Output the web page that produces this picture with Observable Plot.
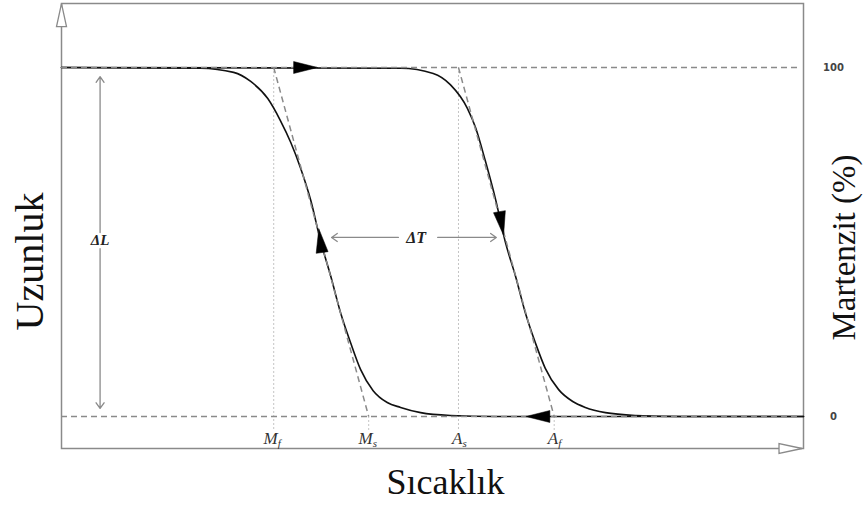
<!DOCTYPE html>
<html>
<head>
<meta charset="utf-8">
<script src="https://cdn.jsdelivr.net/npm/d3@7"></script>
<script src="https://cdn.jsdelivr.net/npm/@observablehq/plot@0.6"></script>
<style>
  body { margin: 0; background: #fff; }
  #chart svg { display: block; }
</style>
</head>
<body>
<div id="chart"></div>
<script>
// ---- data (temperature in arbitrary units 0–100, martensite in %) ----
const coolTemp = [0, 18.7, 23.2, 25.5, 27.8, 29.5, 30.9, 32.2, 33.6, 34.9, 36.3, 37.6, 39.0, 40.3, 42.0, 43.9, 45.7, 48.4, 52.4, 58.5, 100];
const coolMart = [100, 99.8, 98.6, 96.0, 91.1, 84.8, 78.5, 71.3, 61.9, 50.4, 40.1, 29.8, 20.9, 13.5, 7.4, 4.0, 2.6, 1.1, 0.3, 0, 0];
const heatTemp = [0, 45.7, 50.1, 52.4, 54.7, 55.8, 57.1, 58.5, 59.8, 61.2, 62.5, 63.9, 65.2, 67.0, 68.9, 70.6, 73.3, 77.4, 83.4, 100];
const heatMart = [100, 99.8, 98.3, 95.1, 88.3, 82.8, 73.4, 62.2, 50.1, 40.1, 29.8, 20.9, 13.8, 7.7, 4.3, 2.6, 1.1, 0.3, 0, 0];

const transLetter = ["M", "M", "A", "A"];
const transSub = ["f", "s", "s", "f"];
const transTemp = [28.6, 41.4, 53.5, 66.4];

const levels = [100, 0];
const levelLabels = ["100", "0"];

// direction markers on the loop
const markTemp = [32.9, 34.9, 59.3, 64.2];
const markMart = [100, 50.4, 55.3, 0];
const markAngle = [90, -8, 170, -90];

// ΔL and ΔT annotation
const dLTemp = 5.2;
const dLEnds = [[52.7, 97.4], [48.1, 2.3]];
const dLLabelMart = 50.4;
const dTMart = 51.3;
const dTEnds = [[45.4, 36.4], [50.7, 58.6]];
const dTLabelTemp = 47.8;

// axis range
const tempDomain = [0, 100];
const martDomain = [-9.17, 118.34];

// ---- helpers ----
const arrowSymbol = (k) => ({
  draw(context, size) {
    const r = Math.sqrt(size / Math.PI);
    context.moveTo(0, -k * r);
    context.lineTo(r, k * r);
    context.lineTo(-r, k * r);
    context.closePath();
  }
});

const rows = (xs, ys) => xs.map((x, i) => ({x, y: ys[i]}));
const cool = rows(coolTemp, coolMart);
const heat = rows(heatTemp, heatMart);
const trans = transTemp.map((t, i) => ({t, L: transLetter[i], s: transSub[i]}));
const marks = markTemp.map((t, i) => ({t, m: markMart[i], a: markAngle[i]}));
const tangents = [
  {x1: transTemp[0], y1: 100, x2: transTemp[1], y2: 0},
  {x1: transTemp[2], y1: 100, x2: transTemp[3], y2: 0}
];

const serif = "'Liberation Serif', 'Times New Roman', serif";
const grey = "#8a8a8a";

const chart = Plot.plot({
  width: 866,
  height: 506,
  marginLeft: 61,
  marginRight: 63,
  marginTop: 3,
  marginBottom: 58,
  x: {domain: tempDomain, axis: null},
  y: {domain: martDomain, axis: null},
  style: {background: "white", overflow: "visible"},
  marks: [
    Plot.frame({stroke: grey, strokeWidth: 1.5}),
    // dotted verticals at transformation temperatures
    Plot.ruleX([transTemp[0], transTemp[2]], {y1: 100, y2: -4.3, stroke: "#c4c4c4", strokeWidth: 1, strokeDasharray: "2,2"}),
    Plot.ruleX([transTemp[1], transTemp[3]], {y1: 0, y2: -4.3, stroke: "#c4c4c4", strokeWidth: 1, strokeDasharray: "2,2"}),
    // curves
    Plot.line(cool, {x: "x", y: "y", curve: "monotone-x", stroke: "#111", strokeWidth: 1.6}),
    Plot.line(heat, {x: "x", y: "y", curve: "monotone-x", stroke: "#111", strokeWidth: 1.6}),
    // level dashed lines
    Plot.ruleY(levels, {stroke: grey, strokeWidth: 1.5, strokeDasharray: "6,4", x1: 0, x2: 99.6}),
    // tangent dashed lines
    Plot.link(tangents, {x1: "x1", y1: "y1", x2: "x2", y2: "y2", stroke: grey, strokeWidth: 1.5, strokeDasharray: "6,4"}),
    // direction markers
    Plot.dot(marks, {x: "t", y: "m", rotate: "a", symbol: arrowSymbol(2), r: 6, fill: "#000", stroke: "#000", strokeWidth: 0.5}),
    // axis arrow heads (open)
    Plot.dot([{x: 0, y: 115.0, a: 0}, {x: 98.25, y: -9.17, a: 90}], {x: "x", y: "y", rotate: "a", symbol: arrowSymbol(2.3), r: 5, fill: "white", stroke: grey, strokeWidth: 1.3}),
    // ΔL arrows
    Plot.arrow(dLEnds, {x1: dLTemp, x2: dLTemp, y1: d => d[0], y2: d => d[1], stroke: grey, strokeWidth: 1.3, headLength: 8, headAngle: 70}),
    Plot.text(["ΔL"], {x: dLTemp, y: dLLabelMart, fontFamily: serif, fontStyle: "italic", fontWeight: "bold", fontSize: 15, fill: "#222"}),
    // ΔT arrows
    Plot.arrow(dTEnds, {x1: d => d[0], x2: d => d[1], y1: dTMart, y2: dTMart, stroke: grey, strokeWidth: 1.3, headLength: 8, headAngle: 70}),
    Plot.text(["ΔT"], {x: dTLabelTemp, y: dTMart, fontFamily: serif, fontStyle: "italic", fontWeight: "bold", fontSize: 16, fill: "#222"}),
    // transformation labels
    Plot.text(trans, {x: "t", y: -7.74, text: "L", textAnchor: "end", lineAnchor: "bottom", dx: 4, fontFamily: serif, fontStyle: "italic", fontSize: 17, fill: "#333"}),
    Plot.text(trans, {x: "t", y: -7.74, text: "s", textAnchor: "start", lineAnchor: "bottom", dx: 4, dy: 3, fontFamily: serif, fontStyle: "italic", fontSize: 11, fill: "#333"}),
    // right scale labels
    Plot.text(levels, {x: tempDomain[1], y: d => d, text: (d, i) => levelLabels[i], dx: 30, fontFamily: "'DejaVu Sans', sans-serif", fontWeight: "bold", fontSize: 10, fill: "#444"}),
    // axis titles
    Plot.text(["Sıcaklık"], {frameAnchor: "bottom", textAnchor: "middle", dx: 13, dy: 45, lineAnchor: "bottom", fontFamily: serif, fontSize: 36, fill: "#111"}),
    Plot.text(["Uzunluk"], {frameAnchor: "left", textAnchor: "middle", dx: -19, dy: 35.5, rotate: -90, lineAnchor: "bottom", fontFamily: serif, fontSize: 40, fill: "#111"}),
    Plot.text(["Martenzit (%)"], {frameAnchor: "right", textAnchor: "middle", dx: 51, dy: 21.5, rotate: -90, lineAnchor: "bottom", fontFamily: serif, fontSize: 33, fill: "#111"})
  ]
});

document.getElementById("chart").append(chart);
</script>
</body>
</html>
